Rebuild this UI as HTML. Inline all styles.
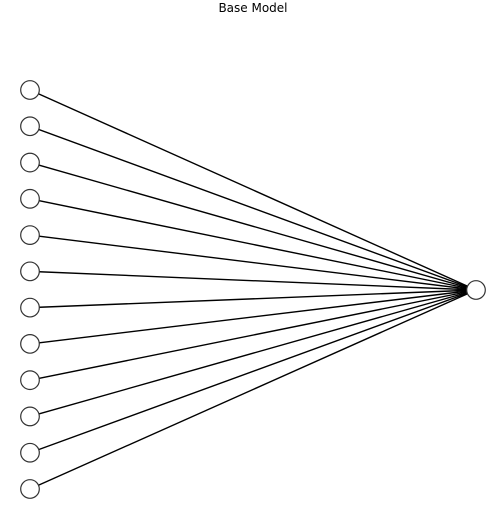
<!DOCTYPE html>
<html><head><meta charset="utf-8"><style>
html,body{margin:0;padding:0;background:#fff;width:501px;height:527px;overflow:hidden}
</style></head><body>
<svg id="chart" width="501" height="527" xmlns="http://www.w3.org/2000/svg">
<text x="253" y="12" text-anchor="middle" font-family="DejaVu Sans, sans-serif" font-size="12" fill="#000">Base Model</text>
<g id="edges"></g><g id="nodes"></g>
</svg>
<script>
const inputNodes = [1,2,3,4,5,6,7,8,9,10,11,12];
const outputNodes = [1];
const inX = 30, outX = 476, topY = 90, bottomY = 489, outY = 290, rad = 9.3;
const ns = "http://www.w3.org/2000/svg";
const edgesG = document.getElementById('edges'), nodesG = document.getElementById('nodes');
function yIn(i){ return topY + (bottomY-topY)*i/(inputNodes.length-1); }
inputNodes.forEach((n,i)=>{
  const l = document.createElementNS(ns,'line');
  l.setAttribute('x1',inX); l.setAttribute('y1',yIn(i));
  l.setAttribute('x2',outX); l.setAttribute('y2',outY);
  l.setAttribute('stroke','#000'); l.setAttribute('stroke-width','1.4');
  
  
  edgesG.appendChild(l);
  const c = document.createElementNS(ns,'circle');
  c.setAttribute('cx',inX); c.setAttribute('cy',yIn(i)); c.setAttribute('r',rad);
  c.setAttribute('fill','#fff'); c.setAttribute('stroke','#333'); c.setAttribute('stroke-width','1.2');
  
  
  nodesG.appendChild(c);
});
outputNodes.forEach(n=>{
  const c = document.createElementNS(ns,'circle');
  c.setAttribute('cx',outX); c.setAttribute('cy',outY); c.setAttribute('r',rad);
  c.setAttribute('fill','#fff'); c.setAttribute('stroke','#333'); c.setAttribute('stroke-width','1.2');
  
  
  nodesG.appendChild(c);
});
</script>
</body></html>
